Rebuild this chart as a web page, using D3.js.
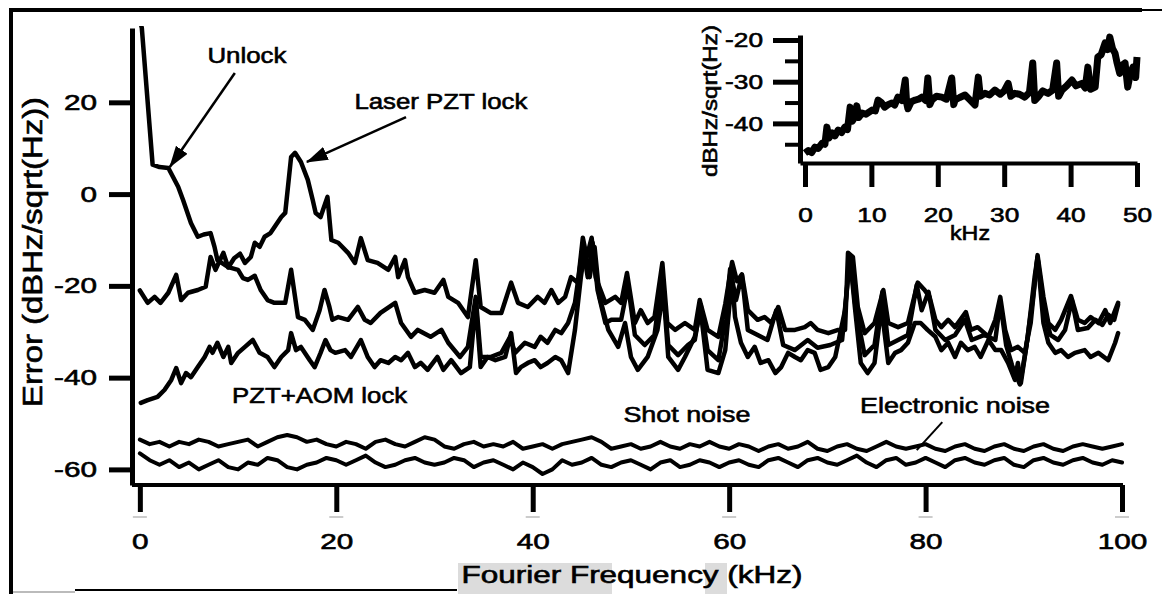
<!DOCTYPE html>
<html>
<head>
<meta charset="utf-8">
<script src="https://cdn.jsdelivr.net/npm/d3@7/dist/d3.min.js"></script>
<style>
body { margin: 0; background: #fff; }
svg { display: block; font-family: "Liberation Sans", Arial, sans-serif; }
</style>
</head>
<body>
<div id="chart"></div>
<script>
// values, [kHz, dBHz/sqrt(Hz)]
var unlock = [[0,38],[0.2,36.2],[1.3,6.4],[2.0,5.9],[2.9,5.7],[3.9,1.6],[4.4,-1.3],[5.2,-6.3],[5.9,-9.3],[6.5,-8.8],[7.2,-8.5],[7.6,-11.5],[7.9,-14.4],[9.0,-15.9],[10.0,-16.5],[10.5,-18.3],[11.0,-18.7],[11.7,-17.8],[12.3,-20.9],[13.0,-23.1],[13.7,-23.7],[14.8,-23.7],[15.4,-16.5],[16.1,-26.8],[16.8,-27.4],[17.6,-29.6],[18.3,-25.3],[18.8,-20.9],[19.3,-24.6],[19.6,-27.4],[20.2,-26.8],[21.2,-27.4],[22.2,-24.6],[22.9,-27.4],[23.5,-28.1],[24.5,-25.9],[26.0,-23.7],[26.6,-28.1],[27.6,-31.1],[28.3,-29.6],[29.6,-31.1],[30.7,-29.6],[31.4,-32.4],[32.6,-35.5],[33.4,-33.3],[34.2,-22.4],[34.7,-35.5],[35.7,-35.5],[36.8,-34.6],[37.7,-31.1],[38.2,-34.6],[39.2,-32.4],[40.2,-33.3],[40.8,-31.1],[41.5,-32.4],[42.3,-29.6],[42.9,-30.3],[43.6,-28.1],[44.3,-23.7],[45.1,-11.5],[45.6,-18.1],[46.1,-10.6],[46.6,-20.9],[47.4,-28.1],[48.0,-27.4],[49.0,-27.4],[49.7,-19.8],[50.4,-30.7],[51.4,-32.9],[52.4,-30.7],[53.2,-17.6],[53.8,-32.9],[54.8,-35.1],[55.8,-32.9],[56.5,-31.8],[57.1,-24.1],[57.8,-34],[58.9,-36.2],[59.6,-27.4],[60.1,-16.3],[60.7,-23.1],[61.3,-17.6],[61.9,-29.6],[62.9,-30.7],[63.9,-31.8],[64.8,-25.3],[65.5,-32.9],[66.7,-34],[68.0,-31.8],[69.0,-33.5],[70.3,-32.9],[71.5,-31.8],[72.3,-13.3],[72.9,-25.3],[73.8,-35.1],[74.8,-32.9],[75.6,-21.3],[76.2,-32.9],[77.2,-31.8],[78.2,-30.7],[79.1,-19.8],[79.6,-25.3],[80.3,-21.3],[81.0,-29.6],[82.0,-31.8],[83.0,-30.7],[84.0,-27.4],[84.7,-31.8],[86.0,-30.7],[87.1,-31.8],[87.6,-23.5],[88.2,-32.9],[88.8,-37.3],[89.6,-41.5],[90.2,-34],[90.9,-23.1],[91.4,-14],[92.1,-25.3],[92.7,-30.7],[93.5,-31.8],[94.2,-29.6],[94.9,-23.1],[95.5,-29.6],[96.5,-29.2],[97.3,-27.4],[98.0,-28.5],[98.6,-26.3],[99.2,-27.4],[99.6,-24.1]];

var laserPzt = [[0,-21],[0.8,-23.7],[1.5,-22.4],[2.1,-23.7],[2.9,-21.5],[3.7,-17.6],[4.2,-23.1],[4.9,-21.5],[5.9,-20.9],[6.7,-20.2],[7.2,-13.7],[7.7,-16.5],[8.5,-12.8],[9.0,-16],[9.6,-14],[10.2,-13],[10.7,-15],[11.3,-13.7],[11.7,-10.6],[12.2,-11.5],[12.7,-9.3],[13.3,-8.5],[14.4,-5],[14.8,-4.1],[15.4,8.1],[15.8,9],[16.4,7],[17.1,3.1],[17.6,-1.3],[17.9,-4.1],[18.4,-5],[19.1,-0.6],[19.5,-10],[20.2,-10.6],[21.2,-12.8],[21.9,-15],[22.5,-9.6],[23.2,-14.4],[24.2,-15],[25.3,-16.5],[26.0,-13.7],[26.3,-18.1],[27.0,-14.4],[27.3,-18.1],[28.0,-21.5],[29.0,-20.9],[30.0,-21.5],[30.9,-18.7],[31.4,-22.4],[32.4,-23.7],[33.4,-26.8],[34.2,-14.4],[34.7,-24.6],[35.7,-25.9],[36.8,-25.9],[37.8,-19.3],[38.5,-23.7],[39.5,-24.6],[40.5,-22.4],[41.2,-23.7],[41.9,-20.9],[42.6,-23.7],[43.3,-22.4],[43.9,-18.1],[44.6,-19.3],[45.1,-9.5],[45.5,-13.7],[46.0,-9.5],[46.4,-18.1],[47.4,-23.7],[48.4,-22.4],[49.0,-23.7],[49.6,-17.2],[50.4,-28.1],[51.0,-25.3],[51.7,-28.1],[52.4,-26.8],[53.2,-15],[53.7,-28.1],[54.5,-29.6],[55.5,-28.1],[56.5,-29.6],[57.0,-23.1],[57.8,-29.6],[58.9,-31.1],[59.6,-24],[60.3,-14.8],[60.8,-19],[61.3,-17.5],[61.9,-25.3],[62.9,-27.4],[63.6,-26.8],[64.3,-28.1],[65.0,-24.6],[65.7,-29.6],[66.7,-29.6],[67.7,-29],[68.3,-28.1],[69.0,-29.6],[70.1,-30.3],[71.1,-29.6],[71.8,-29.6],[72.1,-12.8],[72.6,-13.7],[73.1,-24.6],[73.8,-30.3],[74.8,-28.1],[75.7,-20.9],[76.2,-28.1],[77.2,-29],[78.2,-28.1],[79.2,-19.3],[79.9,-20.9],[80.4,-22.4],[81.0,-27.4],[81.6,-29],[82.3,-27.4],[83.0,-29],[84.1,-25.7],[84.6,-29.6],[85.3,-29],[86.4,-31.1],[87.1,-27.4],[87.6,-22.4],[88.1,-29.6],[88.7,-34],[89.4,-33.3],[90.1,-34.6],[90.7,-28.1],[91.4,-13.3],[92.0,-22.4],[92.5,-28.1],[93.2,-29.6],[93.8,-27.4],[94.8,-22.2],[95.5,-27.4],[96.2,-28.1],[96.8,-26.8],[97.6,-28.1],[98.3,-25.3],[98.8,-28.1],[99.3,-25.3],[99.6,-23.7]];

var pztAom = [[0.1,-45.5],[0.8,-44.9],[1.8,-44.2],[2.5,-42.7],[3.2,-40.5],[3.7,-37.9],[4.2,-41.2],[4.7,-39],[5.2,-39.9],[5.9,-37.7],[6.6,-35.5],[7.1,-33.3],[7.4,-34.6],[7.9,-32.4],[8.5,-35.5],[9.0,-33.3],[9.3,-36.8],[10.0,-34.6],[10.7,-33.3],[11.5,-31.8],[12.2,-34.6],[13.0,-35.5],[13.7,-37.7],[14.4,-35.5],[15.1,-34],[15.4,-30.3],[15.9,-34],[16.4,-33.3],[17.3,-36.2],[17.8,-37.7],[18.4,-34.6],[18.9,-31.8],[19.4,-34],[19.9,-34.6],[20.9,-34],[21.5,-35.5],[22.5,-31.8],[23.2,-35.5],[23.9,-37.7],[24.5,-36.2],[25.3,-36.8],[26.0,-35.5],[26.6,-36.2],[27.3,-34.6],[28.0,-37.7],[28.6,-36.8],[29.3,-38.3],[30.3,-35.5],[30.9,-38.3],[31.7,-36.2],[32.7,-39],[33.6,-37.7],[34.2,-23.7],[34.7,-37.7],[35.4,-35.5],[36.2,-36.2],[37.2,-35.5],[37.8,-30.3],[38.3,-39],[38.8,-37.7],[39.5,-36.8],[40.2,-36.2],[40.8,-37.7],[41.5,-36.8],[42.3,-35.5],[42.9,-36.2],[43.6,-39],[44.3,-29.6],[44.9,-18.1],[45.3,-12.2],[45.8,-18.1],[46.3,-11.5],[46.8,-22.4],[47.7,-29.6],[48.7,-33.3],[49.4,-28.1],[50.0,-35.5],[50.7,-38.3],[51.7,-35.5],[52.7,-29.6],[53.3,-20.9],[53.8,-35.5],[54.8,-38.3],[55.5,-35.5],[56.5,-31.1],[57.1,-25.3],[57.8,-38.3],[58.9,-39],[59.6,-34],[60.3,-18],[60.6,-26.8],[61.2,-32.4],[61.9,-35.5],[62.6,-33.3],[63.2,-36.8],[64.0,-36.2],[64.7,-39],[65.3,-37.7],[66.0,-34.6],[66.7,-35.5],[67.3,-36.2],[68.0,-34],[68.7,-34.6],[69.3,-38.3],[70.1,-37.7],[70.8,-35.5],[71.8,-25.3],[72.3,-13.7],[72.8,-24.6],[73.4,-36.8],[74.1,-39],[74.8,-36.8],[75.5,-24.6],[76.2,-36.8],[76.9,-34.6],[77.5,-34],[78.2,-32.4],[78.9,-28.1],[79.5,-28.1],[80.2,-29.6],[81.0,-31.1],[81.6,-34],[82.3,-32.4],[83.0,-35.5],[83.6,-32.4],[84.3,-34],[85.0,-33.3],[85.6,-35.5],[86.4,-31.8],[87.1,-34],[87.7,-34],[88.4,-36.8],[89.1,-40.5],[89.4,-36.8],[89.7,-41.2],[90.4,-31.1],[91.1,-18.1],[91.4,-13.7],[92.0,-28.1],[92.5,-32.4],[93.2,-34.6],[93.8,-34],[94.5,-35.5],[95.2,-34.6],[96.2,-34],[96.8,-35.5],[97.6,-34.6],[98.6,-36.2],[99.3,-32.4],[99.6,-30.3]];

// noise floors, one value per kHz from 0 to 100
var noiseStep = 1;
var shotNoise = [-53.5,-54.5,-54,-55,-54,-54.5,-53.5,-54,-55,-54.5,
  -54,-53.5,-55,-54,-53,-52.5,-53,-54,-53.5,-54.5,
  -55,-54,-54.5,-55.5,-54,-53.5,-54.5,-55,-54,-53,
  -53.5,-55,-55.5,-54.5,-54,-55,-54.5,-55,-54,-55.5,
  -55,-54.5,-55.5,-54.5,-54,-53.5,-53,-54,-55.5,-55,
  -54.5,-55.5,-55,-54,-55,-55.5,-54.5,-55,-54,-55,
  -55.5,-54.5,-55,-56,-55,-54.5,-55.5,-55,-54,-55.5,
  -56,-55,-54.5,-55.5,-56,-55,-54,-55,-55.5,-55,
  -54.5,-55.5,-56,-55,-54.5,-55.5,-56,-55,-54.5,-55.5,
  -56,-55,-54.5,-55.5,-56,-55,-54.5,-55,-55.5,-55,-54.5];
var electronicNoise = [-56.5,-58,-59,-58,-59.5,-58.5,-60,-59,-58,-59.5,
  -60,-58.5,-59,-57.5,-58,-59.5,-60,-59,-58.5,-57.5,
  -58,-59,-58,-57,-58.5,-59.5,-59,-58,-57.5,-58.5,
  -59,-58.5,-57.5,-58,-59.5,-58.5,-58,-59,-60,-58.5,
  -59.5,-61,-60,-58,-59,-58.5,-57.5,-59,-59.5,-58.5,
  -58,-59,-60,-58.5,-58,-59.5,-59,-58,-58.5,-59.5,
  -58.5,-58,-59,-59.5,-58,-57.5,-58.5,-59.5,-58,-57.5,
  -58.5,-59,-58,-57,-58.5,-59.5,-58,-57.5,-59,-58.5,
  -57.5,-58.5,-59.5,-58,-57.5,-58.5,-59,-58,-57.5,-59,
  -59.5,-58,-57.5,-58.5,-59,-58,-57.5,-58.5,-59,-58,-58.5];

// inset: PZT+AOM lock over 0-50 kHz
var insetTrace = [[0,-47.1],[0.5,-46.5],[1,-47],[1.5,-45.7],[2,-46],[2.6,-44.7],[3,-45],[3.3,-40.9],[3.6,-43.5],[4.1,-42.3],[4.5,-43],[5,-41.6],[5.5,-42.2],[6,-40.9],[6.4,-41.5],[6.8,-36.1],[7.1,-39.5],[7.5,-38.5],[7.8,-35.8],[8.1,-38.6],[8.6,-37.5],[9.2,-37.8],[10.1,-36.8],[10.6,-37],[11,-34.4],[11.5,-35],[12,-36.1],[12.5,-35.5],[13.1,-35.1],[13.5,-35.6],[14,-33.7],[14.6,-34.5],[15.1,-29.6],[15.3,-35],[15.5,-36.5],[16,-34.8],[16.6,-34.4],[17.1,-34.2],[17.6,-33.7],[18.2,-34.5],[18.5,-29.1],[18.8,-35.5],[19.1,-34.4],[19.8,-33.5],[20.6,-33.7],[21.3,-34.2],[22.1,-29.1],[22.4,-35.5],[22.6,-34.4],[23.3,-33.8],[24.1,-33.2],[24.8,-34.3],[25.6,-35.6],[26.1,-28.9],[26.4,-33.5],[27.1,-32.8],[27.8,-33.2],[28.6,-32],[29.4,-33],[30,-32.2],[30.6,-30.4],[31,-33.5],[31.6,-32.8],[32.3,-33],[33.1,-33.7],[33.8,-32.6],[34.3,-25.5],[34.6,-34.5],[35.1,-33.7],[35.8,-32.2],[36.6,-32.8],[37.3,-32],[37.9,-25.5],[38.2,-33.5],[38.7,-32],[39.4,-31],[40.2,-29.6],[40.8,-31],[41.7,-30.4],[42.2,-31.5],[42.6,-26.5],[43,-31.8],[43.7,-31.3],[44.1,-24.1],[44.6,-23.5],[45.2,-20.7],[45.6,-22.3],[45.9,-19.3],[46.3,-22],[46.7,-23.2],[47,-25.5],[47.4,-28],[47.8,-26],[48.2,-25.5],[48.6,-31.3],[49,-28],[49.4,-26.5],[49.8,-29],[50,-24.1]];

var mainXTicks = [0, 20, 40, 60, 80, 100];
var mainYTicks = [20, 0, -20, -40, -60];
var insetXTicks = [0, 10, 20, 30, 40, 50];
var insetYTicks = [-20, -30, -40];
var insetMinorTicks = [-25, -35, -45];

var width = 1162, height = 594;

var svg = d3.select('#chart').append('svg')
    .attr('width', width)
    .attr('height', height);

var x = d3.scaleLinear().domain([-0.8, 100.1]).range([132, 1123]);
var y = d3.scaleLinear().domain([-63.4, 36.2]).range([485, 28]);
var ix = d3.scaleLinear().domain([-0.75, 50]).range([800, 1137]);
var iy = d3.scaleLinear().domain([-49.5, -18.8]).range([163, 35]);

// plain hyphen, as in the printed figure
var plain = function(d) { return String(d); };

// scanned page border
svg.append('path')
    .attr('d', 'M11,594V10H1142')
    .style('fill', 'none').style('stroke', '#000').style('stroke-width', 4);
svg.append('line').attr('x1', 1142).attr('x2', 1162).attr('y1', 10).attr('y2', 10)
    .style('stroke', '#000').style('stroke-width', 2);
svg.append('line').attr('x1', 75).attr('x2', 457).attr('y1', 590).attr('y2', 590)
    .style('stroke', '#000').style('stroke-width', 2);
svg.append('line').attr('x1', 13).attr('x2', 75).attr('y1', 592).attr('y2', 592)
    .style('stroke', '#bbb').style('stroke-width', 2);

// grey scan smudges behind the x title and under the ticks
svg.append('rect').attr('x', 458).attr('y', 563).attr('width', 154).attr('height', 31).style('fill', '#dcdcdc');
svg.append('rect').attr('x', 705).attr('y', 563).attr('width', 22).attr('height', 31).style('fill', '#dcdcdc');
svg.selectAll('.smudge').data(mainXTicks).enter().append('rect')
    .attr('class', 'smudge')
    .attr('x', function(d) { return x(d) - 7; })
    .attr('y', 516).attr('width', 14).attr('height', 2)
    .style('fill', '#ccc');

svg.append('clipPath').attr('id', 'plotClip')
    .append('rect').attr('x', 134).attr('y', 26).attr('width', 992).attr('height', 457);

var line = d3.line()
    .x(function(d) { return x(d[0]); })
    .y(function(d) { return y(d[1]); });

var plot = svg.append('g').attr('clip-path', 'url(#plotClip)');

function trace(data, w) {
    plot.append('path')
        .datum(data)
        .attr('d', line)
        .style('fill', 'none')
        .style('stroke', '#000')
        .style('stroke-width', w)
        .style('stroke-linejoin', 'round')
        .style('stroke-linecap', 'round');
}

function toPoints(values) {
    return values.map(function(v, i) { return [i * noiseStep, v]; });
}

trace(toPoints(electronicNoise), 4);
trace(toPoints(shotNoise), 4);
trace(pztAom, 4.5);
trace(unlock, 4.5);
trace(laserPzt, 4.5);

// main axes
var yAxis = svg.append('g')
    .attr('transform', 'translate(132,0)')
    .call(d3.axisLeft(y).tickValues(mainYTicks).tickFormat(plain).tickSize(23).tickPadding(12).tickSizeOuter(0));
var xAxis = svg.append('g')
    .attr('transform', 'translate(0,485)')
    .call(d3.axisBottom(x).tickValues(mainXTicks).tickFormat(plain).tickSize(27).tickPadding(21).tickSizeOuter(0));

function styleAxis(g, lineW, tickW, fontSize, stretch) {
    g.select('.domain').style('stroke', '#000').style('stroke-width', lineW);
    g.selectAll('.tick line').style('stroke', '#000').style('stroke-width', tickW);
    g.selectAll('.tick text')
        .style('font-size', fontSize + 'px')
        .style('fill', '#000')
        .style('stroke', '#000')
        .style('stroke-width', 0.6)
        .style('font-family', '"Liberation Sans", Arial, sans-serif')
        .each(function() {
            var t = d3.select(this);
            var tx = +t.attr('x') || 0;
            t.attr('x', 0).attr('transform', 'translate(' + tx + ',0) scale(' + stretch + ',1)');
        });
}
styleAxis(yAxis, 5, 5, 22, 1.35);
styleAxis(xAxis, 4, 5, 22, 1.35);
xAxis.select('.domain').attr('d', 'M132,0H1123');

// inset
var insetLine = d3.line()
    .x(function(d) { return ix(d[0]); })
    .y(function(d) { return iy(d[1]); });

svg.append('path')
    .datum(insetTrace)
    .attr('d', insetLine)
    .style('fill', 'none')
    .style('stroke', '#000')
    .style('stroke-width', 7)
    .style('stroke-linejoin', 'round');

var iyAxis = svg.append('g')
    .attr('transform', 'translate(800,0)')
    .call(d3.axisLeft(iy).tickValues(insetYTicks).tickFormat(plain).tickSize(27).tickPadding(10).tickSizeOuter(0));
svg.append('g')
    .attr('transform', 'translate(800,0)')
    .call(d3.axisLeft(iy).tickValues(insetMinorTicks).tickSize(15).tickFormat('').tickSizeOuter(0))
    .call(function(g) {
        g.select('.domain').remove();
        g.selectAll('.tick line').style('stroke', '#000').style('stroke-width', 4);
    });
var ixAxis = svg.append('g')
    .attr('transform', 'translate(0,163)')
    .call(d3.axisBottom(ix).tickValues(insetXTicks).tickFormat(plain).tickSize(24).tickPadding(20).tickSizeOuter(0));
styleAxis(iyAxis, 5, 5, 21, 1.25);
styleAxis(ixAxis, 4, 5, 21, 1.25);

// labels
function label(txt, px, py, size, len, rotate) {
    var t = svg.append('text')
        .attr('text-anchor', 'middle')
        .attr('transform', 'translate(' + px + ',' + py + ')' + (rotate ? ' rotate(-90)' : ''))
        .style('font-size', size + 'px')
        .style('fill', '#000')
        .style('stroke', '#000')
        .style('stroke-width', 0.6)
        .text(txt);
    if (len) t.attr('textLength', len).attr('lengthAdjust', 'spacingAndGlyphs');
    return t;
}

label('Fourier Frequency (kHz)', 632, 583, 23, 341);
label('Error (dBHz/sqrt(Hz))', 42, 252, 27, 310, true);
label('dBHz/sqrt(Hz)', 717, 101, 20, 152, true);
label('kHz', 970, 240, 20, 40);

label('Unlock', x(10.9), y(28.6), 22, 79);
label('Laser PZT lock', x(30.65), y(18.5), 22, 173);
label('PZT+AOM lock', x(18.3), y(-45.5), 22, 175);
label('Shot noise', x(55.7), y(-49.7), 22, 127);
label('Electronic noise', x(83.0), y(-47.7), 22, 190);

// arrows
svg.append('defs').append('marker')
    .attr('id', 'head')
    .attr('markerUnits', 'userSpaceOnUse')
    .attr('markerWidth', 22).attr('markerHeight', 14)
    .attr('refX', 21).attr('refY', 7)
    .attr('orient', 'auto')
    .append('path')
    .attr('d', 'M0,0L22,7L0,14Z')
    .style('fill', '#000');

function arrow(f0, v0, f1, v1, w, head) {
    var a = svg.append('line')
        .attr('x1', x(f0)).attr('y1', y(v0))
        .attr('x2', x(f1)).attr('y2', y(v1))
        .style('stroke', '#000')
        .style('stroke-width', w);
    if (head) a.attr('marker-end', 'url(#head)');
}
arrow(9.67, 26.4, 3.05, 5.9, 2.5, true);
arrow(27.1, 16.8, 17.0, 7.0, 2.5, true);
arrow(81.7, -49.7, 79.1, -55.8, 2, false);
</script>
</body>
</html>
